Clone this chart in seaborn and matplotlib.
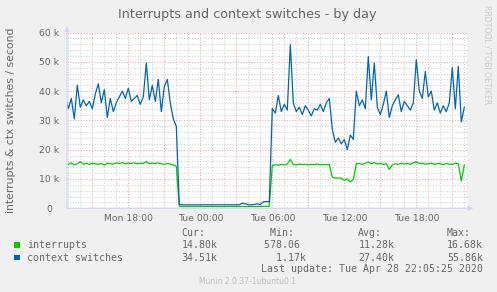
import numpy as np
import pandas as pd
import matplotlib
matplotlib.use("Agg")
import matplotlib.pyplot as plt
import matplotlib.dates as mdates
from matplotlib.ticker import FuncFormatter, MultipleLocator
from matplotlib.patches import Rectangle
import seaborn as sns

# ---------------- data ----------------
series_names = ["interrupts", "context switches"]
series_colors = ["#00CC00", "#0066B3"]
start_time = "2020-04-27 12:45"
step = "15min"

# values in thousands per second, one every 15 minutes
interrupts_k = [
    15.3, 15.0, 15.5, 14.8, 15.2, 15.9, 15.1, 15.3, 15.0, 15.4,
    15.2, 15.0, 15.3, 14.7, 15.4, 15.2, 15.1, 15.5, 15.3, 15.6,
    15.2, 15.4, 15.3, 15.5, 15.2, 15.4, 15.3, 16.0, 15.2, 15.4,
    15.3, 15.5, 15.2, 15.0, 15.3, 15.1, 14.8, 14.3, 0.66, 0.62,
    0.60, 0.62, 0.61, 0.60, 0.63, 0.61, 0.60, 0.62, 0.61, 0.60,
    0.62, 0.61, 0.60, 0.578, 0.61, 0.62, 0.60, 0.61, 0.63, 0.62,
    0.61, 0.60, 0.62, 0.61, 0.63, 0.62, 0.64, 0.66, 0.70, 14.6,
    14.9, 14.7, 15.0, 14.8, 15.1, 16.68, 15.0, 14.8, 15.1, 14.9,
    15.0, 14.8, 15.0, 14.9, 15.1, 14.8, 15.0, 14.9, 15.0, 10.6,
    10.3, 10.3, 10.3, 9.5, 10.0, 9.0, 9.8, 15.2, 15.3, 15.0,
    15.4, 15.8, 15.2, 15.6, 15.1, 15.3, 15.0, 15.2, 13.3, 14.8,
    15.2, 15.0, 15.4, 15.1, 15.3, 15.0, 15.5, 15.9, 15.3, 15.4,
    15.1, 15.2, 15.4, 15.0, 15.3, 15.2, 14.9, 15.3, 15.1, 15.0,
    15.4, 15.2, 9.3, 14.8,
]
context_switches_k = [
    38.0, 34.0, 37.5, 30.5, 42.0, 34.5, 37.0, 35.0, 36.5, 34.0,
    39.0, 42.5, 36.0, 40.5, 31.0, 37.5, 33.0, 36.0, 38.0, 40.0,
    37.5, 41.0, 36.5, 37.5, 38.5, 35.5, 38.0, 49.6, 37.0, 42.0,
    36.5, 44.0, 33.0, 41.5, 44.0, 36.0, 30.5, 28.0, 1.3, 1.2,
    1.2, 1.2, 1.17, 1.2, 1.2, 1.2, 1.2, 1.2, 1.2, 1.2,
    1.2, 1.2, 1.2, 1.2, 1.2, 1.2, 1.2, 1.2, 1.2, 1.7,
    1.6, 1.2, 1.2, 1.3, 1.5, 1.3, 2.2, 2.3, 2.3, 34.0,
    32.5, 38.5, 33.0, 35.5, 33.5, 55.86, 36.0, 33.0, 34.5, 32.0,
    35.0, 33.5, 31.5, 34.0, 33.5, 35.5, 33.0, 36.0, 37.5, 27.0,
    22.5, 24.0, 22.0, 23.5, 20.0, 25.0, 23.5, 40.0, 35.0, 37.0,
    34.0, 51.8, 37.0, 49.6, 34.5, 32.0, 35.5, 40.0, 31.0, 35.0,
    37.0, 38.7, 33.0, 36.5, 35.0, 33.5, 36.0, 50.7, 40.0, 37.5,
    46.7, 38.0, 40.0, 33.5, 36.0, 32.5, 35.0, 33.0, 36.0, 48.0,
    34.0, 48.4, 29.5, 34.51,
]

cur_vals = ["14.80k", "34.51k"]
min_vals = ["578.06 ", "  1.17k"]
avg_vals = ["11.28k", "27.40k"]
max_vals = ["16.68k", "55.86k"]
y_ticks_k = [0, 10, 20, 30, 40, 50, 60]

title = "Interrupts and context switches - by day"
y_label = "interrupts & ctx switches / second"
last_update = "Last update: Tue Apr 28 22:05:25 2020"
footer = "Munin 2.0.37-1ubuntu0.1"
side_text = "RRDTOOL / TOBI OETIKER"

# ---------------- frame ----------------
assert len(interrupts_k) == len(context_switches_k)
times = pd.date_range(start_time, periods=len(interrupts_k), freq=step)
df = pd.DataFrame({
    "time": list(times) * 2,
    "value": np.array(interrupts_k + context_switches_k) * 1000.0,
    "series": [series_names[0]] * len(times) + [series_names[1]] * len(times),
})

W, H = 497, 292
FONT_COL = "#666666"
AXIS_COL = "#CFD6F8"
MAJ_COL = "#F2A6A6"
MIN_COL = "#D2D2D2"

fig = plt.figure(figsize=(W / 100, H / 100), dpi=100, facecolor="#F0F0F0")
top_px, bot_px, left_px, right_px = 32.5, 208.3, 67.0, 467.0
ax = fig.add_axes([left_px / W, (H - bot_px) / H, (right_px - left_px) / W, (bot_px - top_px) / H])
ax.set_facecolor("white")

sns.lineplot(data=df, x="time", y="value", hue="series",
             palette=dict(zip(series_names, series_colors)),
             linewidth=0.9, legend=False, ax=ax, estimator=None, zorder=3)

ax.set_xlim(pd.Timestamp("2020-04-27 12:53:30"), pd.Timestamp("2020-04-28 22:13:30"))
ax.set_ylim(0, 60000)

# grid
ax.xaxis.set_major_locator(mdates.HourLocator(byhour=range(0, 24, 3)))
ax.xaxis.set_minor_locator(mdates.HourLocator())
ax.yaxis.set_major_locator(MultipleLocator(10000))
ax.yaxis.set_minor_locator(MultipleLocator(2000))


def xfmt(v, pos):
    d = mdates.num2date(v + 1.0 / 86400)
    return d.strftime("%a %H:%M") if d.hour % 6 == 0 else ""


def yfmt(v, pos):
    k = int(round(v / 1000))
    return "0  " if k == 0 else f"{k} k"


ax.xaxis.set_major_formatter(FuncFormatter(xfmt))
ax.yaxis.set_major_formatter(FuncFormatter(yfmt))
ax.set_axisbelow(True)
ax.grid(which="major", color=MAJ_COL, linestyle=(0, (1, 1.6)), linewidth=0.75)
ax.grid(which="minor", color=MIN_COL, linestyle=(0, (1, 1.6)), linewidth=0.75)
ax.tick_params(which="both", length=0, colors=FONT_COL, labelsize=6.7)
ax.tick_params(axis="x", pad=4.0)
ax.tick_params(axis="y", pad=5.5)
ax.set_xlabel("")
ax.set_ylabel("")
for s in ax.spines.values():
    s.set_visible(False)

# axes with arrows
ax.annotate("", xy=(0, 1.036), xytext=(0, 0), xycoords="axes fraction",
            arrowprops=dict(arrowstyle="-|>", color=AXIS_COL, lw=0.9, mutation_scale=7,
                            shrinkA=0, shrinkB=0), zorder=4, annotation_clip=False)
ax.annotate("", xy=(1.016, 0), xytext=(0, 0), xycoords="axes fraction",
            arrowprops=dict(arrowstyle="-|>", color=AXIS_COL, lw=0.9, mutation_scale=7,
                            shrinkA=0, shrinkB=0), zorder=4, annotation_clip=False)

# texts
def fx(x):
    return x / W


def fy(y):
    return 1 - y / H


fig.text(fx(247.5), fy(18.3), title, ha="center", va="baseline", fontsize=9.2, color=FONT_COL)
fig.text(fx(11), fy(120), y_label, ha="center", va="center", rotation=90, fontsize=7.8, color=FONT_COL)
fig.text(fx(487), fy(5), side_text, ha="center", va="top", rotation=270, fontsize=5.6, color="#C8C8C8")

mono = dict(family="DejaVu Sans Mono", fontsize=7.1, color=FONT_COL, va="baseline", ha="left")
fig.text(fx(181.7), fy(236), "Cur:", **mono)
fig.text(fx(264.3), fy(236), " Min:", **mono)
fig.text(fx(358.3), fy(236), "Avg:", **mono)
fig.text(fx(447.0), fy(236), "Max:", **mono)
row_base = [248.3, 260.7]
for i, name in enumerate(series_names):
    yb = row_base[i]
    fig.patches.append(Rectangle((fx(14), fy(yb - 0.6)), 5.5 / W, 5.5 / H,
                                 transform=fig.transFigure, facecolor=series_colors[i],
                                 edgecolor="none"))
    fig.text(fx(26.7), fy(yb), name, **mono)
    fig.text(fx(181.7), fy(yb), cur_vals[i], **mono)
    fig.text(fx(264.3), fy(yb), min_vals[i], **mono)
    fig.text(fx(358.3), fy(yb), avg_vals[i], **mono)
    fig.text(fx(447.0), fy(yb), max_vals[i], **mono)
fig.text(fx(482.7), fy(272.3), last_update, family="DejaVu Sans Mono", fontsize=7.1,
         color=FONT_COL, va="baseline", ha="right")
fig.text(fx(247.8), fy(284.3), footer, ha="center", va="baseline", fontsize=5.5, color="#BBBBBB")

fig.savefig("out.png", dpi=100, facecolor=fig.get_facecolor())
